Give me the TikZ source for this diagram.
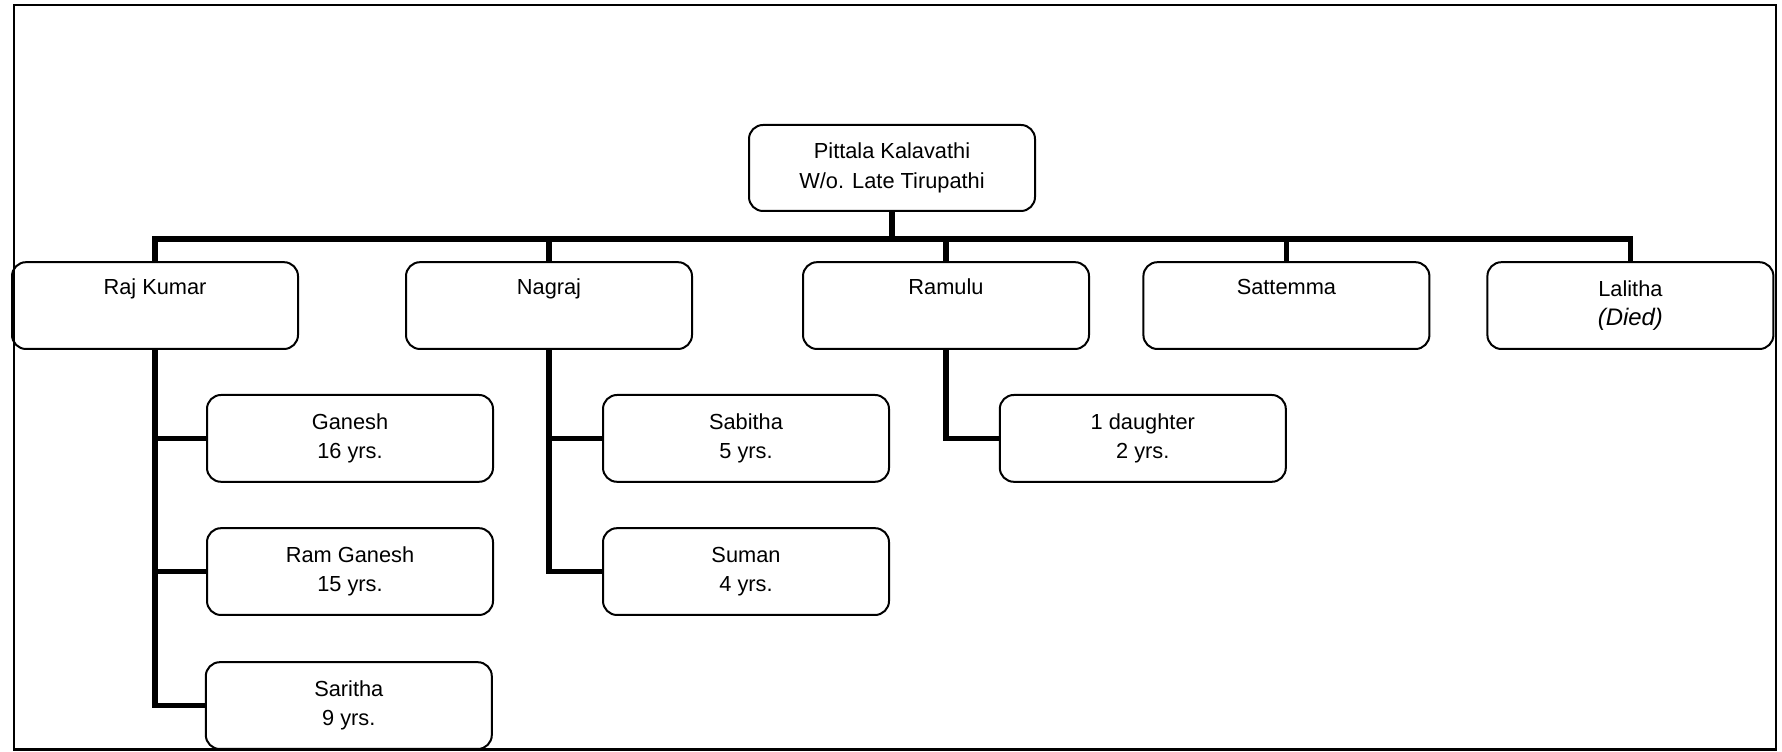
\documentclass[tikz,border=0pt]{standalone}
\usepackage{fontspec}
\setmainfont{Liberation Sans}
\usepackage{tikz}

\begin{document}
\begin{tikzpicture}[
	box/.style={draw, line width=.5mm, rounded corners=3.5mm, align=center, minimum width=7.15cm, minimum height=2.17cm, font=\fontsize{15.5}{21}\selectfont},
	conn/.style={line width=1.4mm, line join=miter}]
			\useasboundingbox (0,0) rectangle (44.55,18.8);
			\draw[line width=.7mm] (.35,.06) rectangle (44.4,18.675);
			% top
			\node[box, minimum width=7.15cm, minimum height=2.15cm] (kal) at (22.3,14.6) {Pittala Kalavathi\\W/o. Late Tirupathi};
			% children
			\node[box] (raj) at (3.875,11.16) {Raj Kumar\\ \strut};
			\node[box] (nag) at (13.725,11.16) {Nagraj\\ \strut};
			\node[box] (ram) at (23.65,11.16) {Ramulu\\ \strut};
			\node[box] (sat) at (32.16,11.16) {Sattemma\\ \strut};
			\node[box] (lal) at (40.76,11.16) {Lalitha\\ \itshape\fontsize{17}{21}\selectfont(Died)};
			% grandchildren
			\node[box] (gan) at (8.75,7.84) {Ganesh\\16 yrs.};
			\node[box] (rgan) at (8.75,4.51) {Ram Ganesh\\15 yrs.};
			\node[box] (sar) at (8.72,1.16) {Saritha\\9 yrs.};
			\node[box] (sab) at (18.65,7.84) {Sabitha\\5 yrs.};
			\node[box] (sum) at (18.65,4.51) {Suman\\4 yrs.};
			\node[box] (dau) at (28.57,7.84) {1 daughter\\2 yrs.};
			\coordinate (bar) at (0,12.825);
			\draw[conn] (kal.south) -- (kal.south |- bar);
			\draw[conn] (raj.north) -- (raj.north |- bar) -- (lal.north |- bar) -- (lal.north);
			\draw[conn] (nag.north) -- (nag.north |- bar);
			\draw[conn] (ram.north) -- (ram.north |- bar);
			\draw[conn] (sat.north) -- (sat.north |- bar);
			\draw[conn] (raj.south) |- (sar.west);
			\draw[conn] (raj.south |- gan.west) -- (gan.west);
			\draw[conn] (raj.south |- rgan.west) -- (rgan.west);
			\draw[conn] (nag.south) |- (sum.west);
			\draw[conn] (nag.south |- sab.west) -- (sab.west);
			\draw[conn] (ram.south) |- (dau.west);
			\end{tikzpicture}
\end{document}
